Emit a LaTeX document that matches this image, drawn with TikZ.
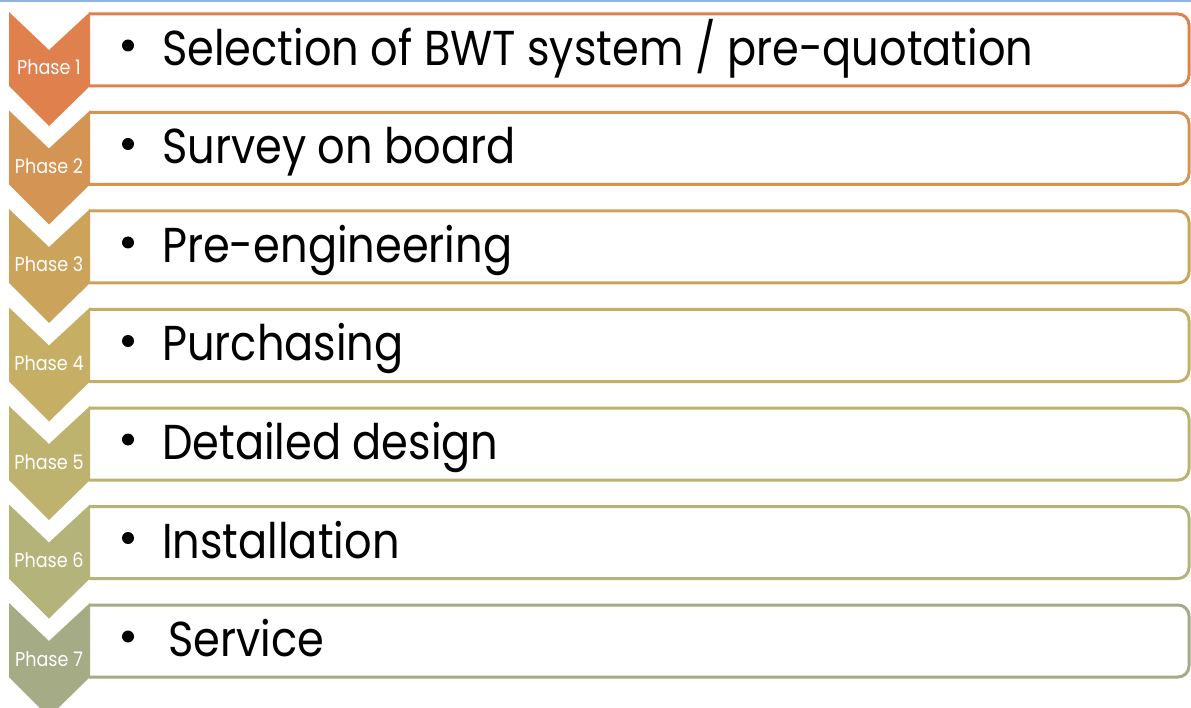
\documentclass[tikz,border=0pt]{standalone}
\usepackage{fontspec}
\setmainfont[FakeStretch=0.88]{Poppins}
\definecolor{c1}{HTML}{E0804C}
\definecolor{c2}{HTML}{D49453}
\definecolor{c3}{HTML}{CCA35B}
\definecolor{c4}{HTML}{C6AE64}
\definecolor{c5}{HTML}{BEB26F}
\definecolor{c6}{HTML}{B4B47A}
\definecolor{c7}{HTML}{A5AB84}
\definecolor{topline}{HTML}{8EB4DC}
\tikzset{
  phaselabel/.style={text=white, font=\fontsize{20}{22}\selectfont, inner sep=0pt, anchor=base},
  steptext/.style={font=\fontsize{49}{52}\selectfont, anchor=base west, inner sep=0pt},
  bulletdot/.style={fill=black, circle, minimum size=12pt, inner sep=0pt}
}
\begin{document}
\begin{tikzpicture}[x=1pt,y=-1pt]
\useasboundingbox (0,0) rectangle (1191,708);
\fill[white] (0,0) rectangle (1191,708);
\draw[topline, line width=1.6pt] (0,0.8) -- (1191,0.8);
\foreach \i/\c/\t/\tx in {1/c1/{Selection of BWT system / pre-quotation}/162,
                           2/c2/{Survey on board}/162,
                           3/c3/{Pre-engineering}/162,
                           4/c4/{Purchasing}/162,
                           5/c5/{Detailed design}/162,
                           6/c6/{Installation}/162,
                           7/c7/{Service}/168}{
  \pgfmathsetmacro{\yy}{12+98.5*(\i-1)}
  % box
  \draw[draw=\c, line width=3pt, fill=white, rounded corners=11pt]
    (89,\yy+2) -- (1189,\yy+2) -- (1189,\yy+74) -- (89,\yy+74);
  % chevron
  \fill[\c] (9,\yy) -- (49,\yy+38) -- (90,\yy) -- (90,\yy+74) -- (49,\yy+114) -- (9,\yy+74) -- cycle;
  \node[phaselabel] (p\i) at (49,\yy+63) {Phase \i};
  \node[bulletdot] (b\i) at (128,\yy+33.5) {};
  \node[steptext] (t\i) at (\tx,\yy+53.5) {\t};
}
\end{tikzpicture}
\end{document}
